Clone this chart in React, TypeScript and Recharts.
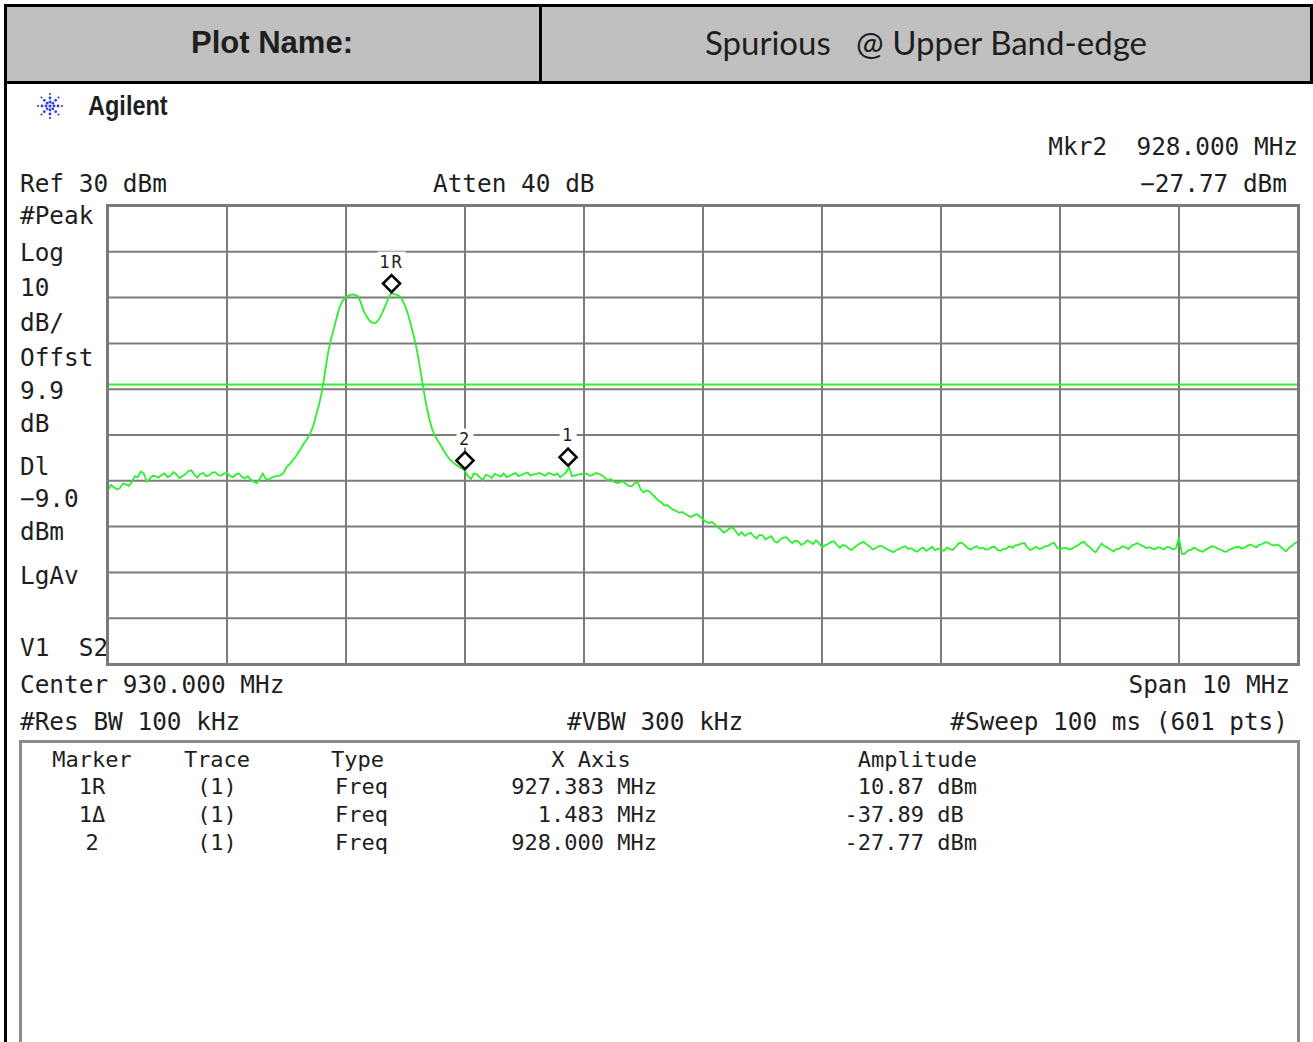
import React from "react";
import { LineChart, Line, XAxis, YAxis, CartesianGrid, ReferenceLine, ReferenceDot } from "recharts";

// sweep: 925 .. 935 MHz, one reading every 25 kHz (401 readings)
const FREQ_START = 925;
const FREQ_STEP = 0.025;

const traceDbm = [
  -32.0, -30.9, -31.4, -31.9, -31.6, -30.6, -30.8, -31.1, -30.3, -29.0, -29.2, -28.0, -28.4, -30.2, -29.6, -28.9, -29.0, -29.3, -28.7, -28.4,
  -29.2, -28.9, -28.1, -28.6, -29.4, -29.0, -28.6, -27.9, -27.7, -28.6, -29.3, -28.5, -28.3, -29.0, -28.8, -28.2, -28.1, -28.7, -28.9, -28.4,
  -28.3, -28.9, -29.2, -28.6, -28.4, -29.1, -29.5, -29.0, -29.8, -30.2, -30.5, -29.6, -28.4, -29.5, -29.8, -29.3, -29.1, -28.9, -28.8, -28.3,
  -27.0, -26.4, -25.6, -24.8, -23.8, -22.8, -21.7, -20.8, -19.6, -18.0, -15.6, -13.2, -10.2, -6.0, -1.9, 1.0, 3.4, 6.0, 8.2, 9.4,
  10.1, 10.5, 10.7, 10.6, 10.3, 8.9, 7.0, 5.8, 4.9, 4.5, 4.5, 5.2, 6.4, 7.9, 9.4, 10.87, 10.8, 10.6, 10.3, 9.4,
  8.0, 6.0, 3.6, 1.0, -2.0, -5.8, -9.8, -13.5, -16.5, -18.8, -20.3, -21.4, -22.4, -23.6, -24.6, -25.4, -26.0, -26.5, -27.0, -27.3,
  -27.77, -29.0, -29.6, -28.4, -28.6, -29.3, -29.8, -28.7, -28.9, -29.4, -28.5, -28.8, -29.1, -28.4, -29.2, -28.9, -28.6, -28.3, -29.0, -28.7,
  -28.4, -28.2, -28.9, -28.6, -28.5, -28.3, -28.6, -28.9, -28.3, -28.5, -28.8, -28.4, -29.2, -28.7, -28.2, -27.02, -29.0, -28.8, -28.7, -28.5,
  -28.6, -28.4, -28.9, -28.7, -28.3, -28.5, -28.8, -29.3, -29.9, -29.6, -30.2, -30.5, -30.4, -30.1, -30.6, -31.1, -31.2, -30.6, -30.2, -31.8,
  -32.5, -32.1, -32.3, -33.0, -33.6, -34.3, -34.7, -35.4, -35.3, -35.9, -36.3, -36.6, -37.0, -36.8, -37.2, -37.6, -37.9, -37.5, -37.3, -37.8,
  -38.4, -39.0, -39.2, -39.0, -39.5, -40.2, -40.6, -41.3, -40.9, -40.3, -40.2, -41.0, -41.9, -41.2, -42.0, -41.6, -41.3, -42.1, -42.6, -41.8,
  -41.9, -42.8, -42.4, -42.1, -43.2, -43.5, -42.8, -42.4, -42.3, -43.0, -43.6, -43.1, -43.2, -44.0, -43.7, -43.0, -43.3, -43.8, -43.0, -43.6,
  -44.5, -44.1, -43.8, -43.4, -43.2, -44.0, -44.6, -44.0, -44.2, -44.8, -45.1, -44.5, -44.0, -43.6, -43.3, -43.9, -44.3, -45.0, -44.7, -44.3,
  -44.2, -44.6, -45.0, -45.3, -45.6, -45.1, -44.9, -44.5, -44.3, -44.9, -44.7, -45.2, -45.5, -44.9, -44.6, -45.3, -44.9, -44.4, -45.2, -44.8,
  -45.0, -45.3, -44.6, -44.9, -45.1, -44.4, -43.6, -43.5, -44.1, -44.7, -45.0, -44.6, -44.3, -44.8, -44.6, -45.0, -44.9, -44.5, -44.4, -45.1,
  -45.3, -44.9, -44.8, -44.3, -44.6, -44.1, -44.0, -43.7, -43.6, -44.5, -45.1, -44.8, -44.4, -44.9, -44.7, -44.3, -44.2, -43.8, -43.5, -44.6,
  -45.0, -44.7, -44.6, -45.0, -44.8, -44.4, -44.1, -43.6, -43.3, -44.0, -44.5, -45.2, -45.6, -44.6, -43.7, -44.3, -44.6, -45.0, -45.4, -44.9,
  -44.8, -44.3, -44.5, -44.9, -44.2, -43.9, -43.6, -44.0, -44.3, -44.7, -44.5, -44.8, -44.9, -44.5, -44.7, -45.0, -44.4, -44.6, -45.0, -44.7,
  -42.4, -46.0, -45.9, -45.2, -45.1, -44.6, -44.9, -45.3, -45.5, -45.0, -44.7, -44.3, -44.4, -44.8, -45.0, -45.4, -45.5, -45.0, -44.8, -44.5,
  -44.4, -44.8, -44.6, -44.2, -43.9, -44.3, -44.5, -44.0, -43.8, -43.4, -43.5, -44.0, -44.1, -43.9, -44.3, -44.9, -45.4, -44.6, -44.2, -43.6,
  -43.3,
];

const freqTicks = [925, 926, 927, 928, 929, 930, 931, 932, 933, 934, 935];
const dbTicks = [30, 20, 10, 0, -10, -20, -30, -40, -50, -60, -70];
const DISPLAY_LINE = -9.0;

const markerNames = ["1R", "2", "1"];
const markerFreqs = [927.383, 928.0, 928.866];
const markerAmps = [10.87, -27.77, -27.02];

const tableHead = ["Marker", "Trace", "Type", "X Axis", "Amplitude"];
const rowMarker = ["1R", "1\u0394", "2"];
const rowTrace = ["(1)", "(1)", "(1)"];
const rowType = ["Freq", "Freq", "Freq"];
const rowX = ["927.383 MHz", "1.483 MHz", "928.000 MHz"];
const rowAmp = ["10.87 dBm", "-37.89 dB ", "-27.77 dBm"];

const sideLabels: [string, number][] = [
  ["#Peak", 216], ["Log", 253], ["10", 288], ["dB/", 323], ["Offst", 358],
  ["9.9", 391], ["dB", 424], ["Dl", 467], ["\u22129.0", 499], ["dBm", 532],
  ["LgAv", 576], ["V1  S2", 648],
];

const trace = traceDbm.map((v, i) => ({ f: +(FREQ_START + i * FREQ_STEP).toFixed(3), dbm: v }));

const SA_FONT = '"DejaVu Sans Mono", "Liberation Mono", monospace';
const SA_SIZE = 24.4;
const GREEN = "#2cf02c";
const GRID = "#7c7c7c";
const INK = "#1e1e1e";
const PAGE_W = 1313;

type TxtProps = {
  x: number;
  y: number;
  size?: number;
  align?: "left" | "right" | "center";
  font?: string;
  weight?: number;
  squeeze?: number;
  children: React.ReactNode;
};

function Txt({ x, y, size = SA_SIZE, align = "left", font = SA_FONT, weight = 400, squeeze = 1, children }: TxtProps) {
  const pos =
    align === "left"
      ? { left: x, transformOrigin: "left center" }
      : align === "right"
      ? { right: PAGE_W - x, transformOrigin: "right center" }
      : { left: x, transform: "translateX(-50%)" };
  const extra = squeeze !== 1 ? { transform: `scaleX(${squeeze})` } : {};
  return (
    <div
      style={{
        position: "absolute",
        top: y - size * 0.6,
        lineHeight: `${size * 1.2}px`,
        fontSize: size,
        fontFamily: font,
        fontWeight: weight,
        color: INK,
        whiteSpace: "pre",
        ...pos,
        ...extra,
      }}
    >
      {children}
    </div>
  );
}

const markerShape = (label: string) => (props: any) => {
  const { cx, cy } = props;
  const dy = cy - 10;
  const w = label.length * 11 + 6;
  return (
    <g>
      <rect x={cx - w / 2} y={cy - 42} width={w} height={19} fill="#fff" />
      <text x={cx} y={cy - 26} textAnchor="middle" fontFamily={SA_FONT} fontSize={17} fill={INK} letterSpacing={2}>
        {label}
      </text>
      <path
        d={`M${cx} ${dy - 8.5} L${cx + 8.5} ${dy} L${cx} ${dy + 8.5} L${cx - 8.5} ${dy} Z`}
        fill="#fff"
        stroke="#000"
        strokeWidth={2.6}
      />
    </g>
  );
};

function AgilentLogo() {
  const rays = [0, 45, 90, 135, 180, 225, 270, 315];
  const radii = [4, 8, 12];
  return (
    <svg width={34} height={34} style={{ position: "absolute", left: 33, top: 89 }}>
      {rays.map((a) =>
        radii.map((r) => (
          <circle
            key={`${a}-${r}`}
            cx={17 + r * Math.cos((a * Math.PI) / 180)}
            cy={17 + r * Math.sin((a * Math.PI) / 180)}
            r={r === 12 ? 1.1 : 1.4}
            fill="#2b3fe0"
          />
        ))
      )}
      <circle cx={17} cy={17} r={1.6} fill="#2b3fe0" />
    </svg>
  );
}

export default function App() {
  return (
    <div style={{ position: "absolute", left: 0, top: 0, width: PAGE_W, height: 1042, overflow: "hidden", background: "#fff" }}>
      {/* title block */}
      <div style={{ position: "absolute", left: 4, top: 4, width: 1309, height: 80, background: "#c0c0c0", border: "3px solid #000", boxSizing: "border-box" }} />
      <div style={{ position: "absolute", left: 539, top: 4, width: 3, height: 80, background: "#000" }} />
      <div style={{ position: "absolute", left: 4, top: 82, width: 3, height: 960, background: "#000" }} />
      <Txt x={272} y={43} size={31} align="center" font='"Liberation Sans", Arial, sans-serif' weight={700}>
        Plot Name:
      </Txt>
      <Txt x={926} y={43} size={33} align="center" font='Lato, "Open Sans", sans-serif'>
        {"Spurious   @ Upper Band-edge"}
      </Txt>

      <AgilentLogo />
      <Txt x={88} y={106} size={28} font='"Liberation Sans", Arial, sans-serif' weight={700} squeeze={0.84}>
        Agilent
      </Txt>

      {/* annotation around the graticule */}
      <Txt x={1298} y={147} align="right">{"Mkr2  928.000 MHz"}</Txt>
      <Txt x={20} y={184}>Ref 30 dBm</Txt>
      <Txt x={433} y={184}>Atten 40 dB</Txt>
      <Txt x={1287} y={184} align="right">{"\u221227.77 dBm"}</Txt>
      {sideLabels.map(([t, y]) => (
        <Txt key={t} x={20} y={y}>
          {t}
        </Txt>
      ))}
      <Txt x={20} y={685}>Center 930.000 MHz</Txt>
      <Txt x={1290} y={685} align="right">Span 10 MHz</Txt>
      <Txt x={20} y={722}>#Res BW 100 kHz</Txt>
      <Txt x={567} y={722}>#VBW 300 kHz</Txt>
      <Txt x={1288} y={722} align="right">#Sweep 100 ms (601 pts)</Txt>

      {/* trace */}
      <div style={{ position: "absolute", left: 108, top: 206 }}>
        <LineChart width={1190} height={458} data={trace} margin={{ top: 0, right: 0, bottom: 0, left: 0 }}>
          <XAxis dataKey="f" type="number" domain={[925, 935]} ticks={freqTicks} hide />
          <YAxis type="number" domain={[-70, 30]} ticks={dbTicks} hide />
          <CartesianGrid stroke={GRID} strokeWidth={2} />
          <ReferenceLine y={DISPLAY_LINE} stroke={GREEN} strokeWidth={2} />
          <Line
            type="linear"
            dataKey="dbm"
            stroke={GREEN}
            strokeWidth={1.8}
            dot={false}
            isAnimationActive={false}
          />
          {markerNames.map((m, i) => (
            <ReferenceDot
              key={m}
              x={markerFreqs[i]}
              y={markerAmps[i]}
              r={0}
              ifOverflow="visible"
              shape={markerShape(m)}
            />
          ))}
        </LineChart>
      </div>
      <div style={{ position: "absolute", left: 106, top: 204, width: 1194, height: 462, border: "3px solid #7a7a7a", boxSizing: "border-box" }} />

      {/* marker table */}
      <div style={{ position: "absolute", left: 19, top: 740, width: 1281, height: 320, border: "3px solid #8a8a8a", boxSizing: "border-box" }} />
      <Txt x={92} y={760} size={22} align="center">{tableHead[0]}</Txt>
      <Txt x={217} y={760} size={22} align="center">{tableHead[1]}</Txt>
      <Txt x={331} y={760} size={22}>{tableHead[2]}</Txt>
      <Txt x={591} y={760} size={22} align="center">{tableHead[3]}</Txt>
      <Txt x={977} y={760} size={22} align="right">{tableHead[4]}</Txt>
      {rowMarker.map((m, i) => {
        const y = 787 + i * 28;
        return (
          <React.Fragment key={i}>
            <Txt x={92} y={y} size={22} align="center">{m}</Txt>
            <Txt x={217} y={y} size={22} align="center">{rowTrace[i]}</Txt>
            <Txt x={335} y={y} size={22}>{rowType[i]}</Txt>
            <Txt x={657} y={y} size={22} align="right">{rowX[i]}</Txt>
            <Txt x={977} y={y} size={22} align="right">{rowAmp[i]}</Txt>
          </React.Fragment>
        );
      })}
    </div>
  );
}
